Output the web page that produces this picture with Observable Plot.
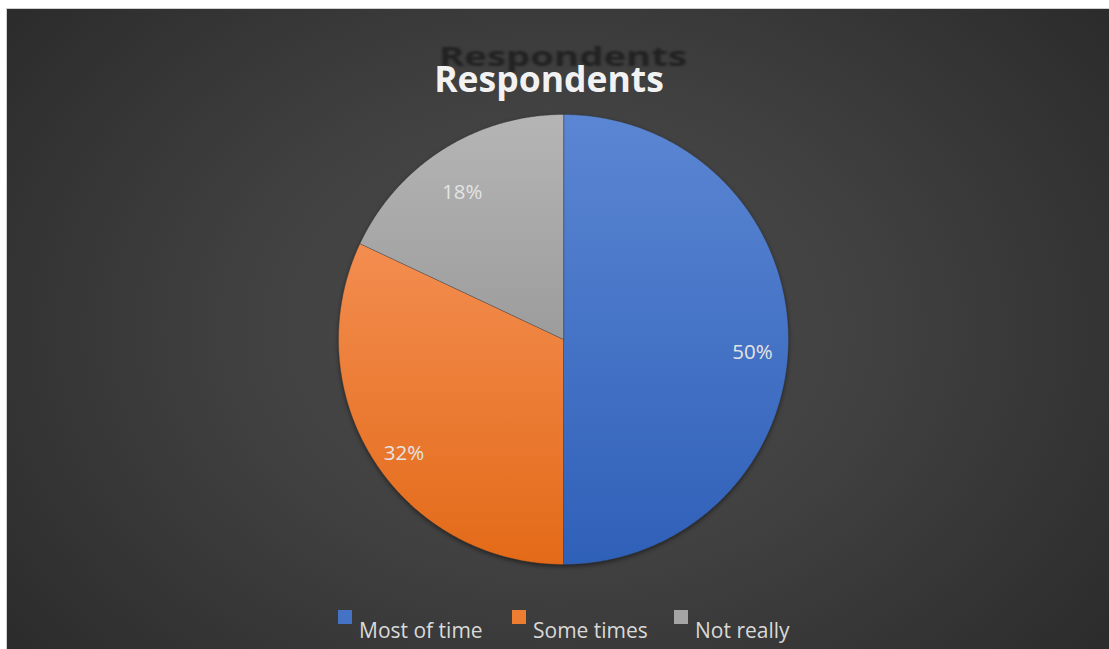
<!DOCTYPE html>
<html><head><meta charset="utf-8">
<script src="https://cdn.jsdelivr.net/npm/d3@7"></script>
<script src="https://cdn.jsdelivr.net/npm/@observablehq/plot@0.6"></script>
<style>
html,body{margin:0;padding:0;background:#fff;width:1109px;height:649px;overflow:hidden;font-family:"Open Sans",sans-serif;}
#bg{position:absolute;left:6px;top:8px;width:1103px;height:641px;
 background: radial-gradient(ellipse 62% 80% at 50% 50%, #4b4b4b 0%, #414141 45%, #2c2c2c 100%);
 border-top:1px solid #cfcfcf;border-left:1px solid #cfcfcf;box-sizing:border-box;}
#plot{position:absolute;left:0;top:0;}
.title{position:absolute;left:0;width:1098px;text-align:center;font-weight:700;font-size:35.5px;white-space:nowrap;}
#t1{top:54px;color:#f2f2f2;}
#t0{top:32px;left:14px;color:rgba(15,15,15,0.6);filter:blur(1.5px);transform:scale(1.08,0.74);}
#legend{position:absolute;top:610px;left:0;width:1109px;}
.item{position:absolute;font-size:21px;color:#d9d9d9;white-space:nowrap;}
.sw{position:absolute;width:14px;height:14px;top:0px;}
.lt{position:absolute;top:6px;}
</style></head>
<body>
<div id="bg"></div>
<div id="t0" class="title">Respondents</div>
<div id="t1" class="title">Respondents</div>
<div id="plot"></div>
<div id="legend"></div>
<script>
const categories = ["Most of time", "Some times", "Not really"];
const values = [50, 32, 18];
const labels = ["50%", "32%", "18%"];
const swatchColors = ["#4472c4", "#ed7d31", "#a5a5a5"];
const gradStops = [["#5b86d3", "#2f60b8"], ["#f38d50", "#e36a18"], ["#b5b5b5", "#9c9c9c"]];

const arcs = d3.pie().sort(null).value(d => d)(values);
const features = arcs.map((a, i) => {
  const ring = [[0, 0]];
  const n = Math.max(2, Math.ceil((a.endAngle - a.startAngle) / 0.005));
  for (let k = 0; k <= n; k++) {
    const t = a.startAngle + (a.endAngle - a.startAngle) * k / n;
    ring.push([Math.sin(t), Math.cos(t)]);
  }
  ring.push([0, 0]);
  return {type: "Feature", properties: {category: categories[i], i}, geometry: {type: "Polygon", coordinates: [ring]}};
});
const labelData = arcs.map((a, i) => {
  const m = (a.startAngle + a.endAngle) / 2;
  return {x: 0.84 * Math.sin(m), y: 0.84 * Math.cos(m), text: labels[i]};
});

const W = 1109, H = 649;
const chart = Plot.plot({
  width: W, height: H,
  marginLeft: 338, marginRight: W - 788, marginTop: 114, marginBottom: H - 564,
  style: {background: "transparent", overflow: "visible"},
  projection: {type: "reflect-y", domain: {type: "MultiPoint", coordinates: [[-1, -1], [1, 1]]}},
  color: {domain: categories, range: categories.map((c, i) => `url(#grad${i})`)},
  marks: [
    Plot.geo(features, {fill: d => d.properties.category, stroke: "rgba(50,50,50,0.45)", strokeWidth: 0.8}),
    Plot.text(labelData, {x: "x", y: "y", text: "text", dy: 13, fill: "#e4e4e4", fontSize: 20.5, fontFamily: "Open Sans"})
  ]
});
const defs = d3.select(chart).insert("defs", ":first-child");
gradStops.forEach((s, i) => {
  const g = defs.append("linearGradient").attr("id", `grad${i}`).attr("x1", 0).attr("y1", 0).attr("x2", 0).attr("y2", 1);
  g.append("stop").attr("offset", "0%").attr("stop-color", s[0]);
  g.append("stop").attr("offset", "100%").attr("stop-color", s[1]);
});
d3.select(chart).select("g[aria-label=geo]").style("filter", "drop-shadow(0px 2px 2px rgba(0,0,0,0.45))");
document.getElementById("plot").appendChild(chart);

const legendX = [338, 512, 674];
const legend = d3.select("#legend");
categories.forEach((c, i) => {
  const it = legend.append("div").attr("class", "item").style("left", legendX[i] + "px");
  it.append("div").attr("class", "sw").style("background", swatchColors[i]);
  it.append("div").attr("class", "lt").style("left", "21px").text(c);
});
</script>
</body></html>
